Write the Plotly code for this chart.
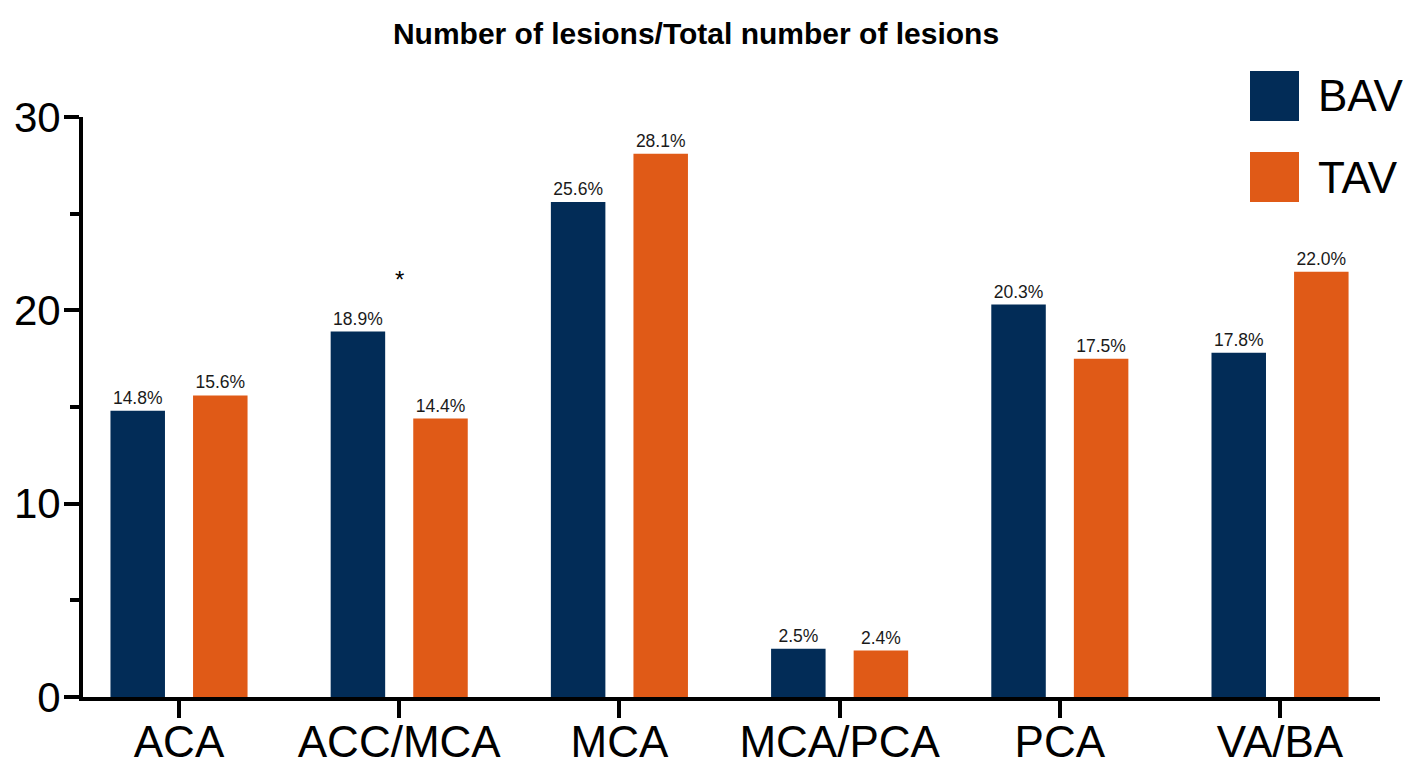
import plotly.graph_objects as go

categories = ["ACA", "ACC/MCA", "MCA", "MCA/PCA", "PCA", "VA/BA"]
bav_values = [14.8, 18.9, 25.6, 2.5, 20.3, 17.8]
tav_values = [15.6, 14.4, 28.1, 2.4, 17.5, 22.0]
series_names = ["BAV", "TAV"]
title_text = "Number of lesions/Total number of lesions"
y_ticks = [0, 10, 20, 30]
star_category = "ACC/MCA"
star_y = 21.6

NAVY = "#022C57"
ORANGE = "#E05A17"
FONT = "Liberation Sans, Arial, sans-serif"

# page has an 8px body margin; figure is sized/positioned to compensate
W, H = 1405, 756
L, R, T, B = 75, 33, 109, 67
PW, PH = W - L - R, H - T - B

fig = go.Figure()
for name, vals, col in [(series_names[0], bav_values, NAVY), (series_names[1], tav_values, ORANGE)]:
    fig.add_trace(go.Bar(
        x=categories, y=vals, name=name, marker=dict(color=col, line=dict(width=0)),
        text=[f"{v:.1f}%" for v in vals], textposition="outside", cliponaxis=False,
        constraintext="none",
        textfont=dict(family=FONT, size=17.5, color="#1a1a1a"),
        showlegend=False,
    ))

fig.update_layout(
    width=W, height=H,
    barmode="group", bargap=0.25, bargroupgap=0.34,
    plot_bgcolor="white", paper_bgcolor="white",
    margin=dict(l=L, r=R, t=T, b=B, autoexpand=False),
    font=dict(family=FONT, color="black"),
    title=dict(text="<b>" + title_text + "</b>", x=688 / W, xanchor="center",
               y=1 - 25 / H, yanchor="middle", yref="container",
               font=dict(family=FONT, size=30, color="black")),
)
fig.update_xaxes(
    range=[-0.436, 5.454], showline=True, linecolor="black", linewidth=4,
    ticks="outside", ticklen=17, tickwidth=4, tickcolor="black", automargin=False,
    ticklabelstandoff=-14,
    tickfont=dict(family=FONT, size=44, color="black"), showgrid=False, zeroline=False,
)
fig.update_yaxes(
    range=[0, 30], tickvals=y_ticks, showline=True, linecolor="black", linewidth=4,
    ticks="outside", ticklen=15, tickwidth=4, tickcolor="black", automargin=False,
    ticklabelstandoff=-5,
    minor=dict(dtick=5, tick0=0, ticks="outside", ticklen=9, tickwidth=4, tickcolor="black"),
    tickfont=dict(family=FONT, size=42, color="black"), showgrid=False, zeroline=False,
)

# star annotation
fig.add_annotation(x=star_category, y=star_y, text="*", showarrow=False,
                   font=dict(family=FONT, size=24, color="black"))

# custom legend (large squares); centres in figure pixels
legend_items = [(series_names[0], NAVY, 88), (series_names[1], ORANGE, 169)]
for name, col, yc in legend_items:
    fig.add_shape(type="rect", xref="paper", yref="paper",
                  x0=(1242 - L) / PW, x1=(1291 - L) / PW,
                  y0=(T + PH - (yc + 25)) / PH, y1=(T + PH - (yc - 25)) / PH,
                  fillcolor=col, line=dict(width=0))
    fig.add_annotation(xref="paper", yref="paper", x=(1308 - L) / PW, y=(T + PH - yc) / PH,
                       xanchor="left", yanchor="middle", text=name, showarrow=False,
                       font=dict(family=FONT, size=44, color="black"))

fig.write_html("out.html")
